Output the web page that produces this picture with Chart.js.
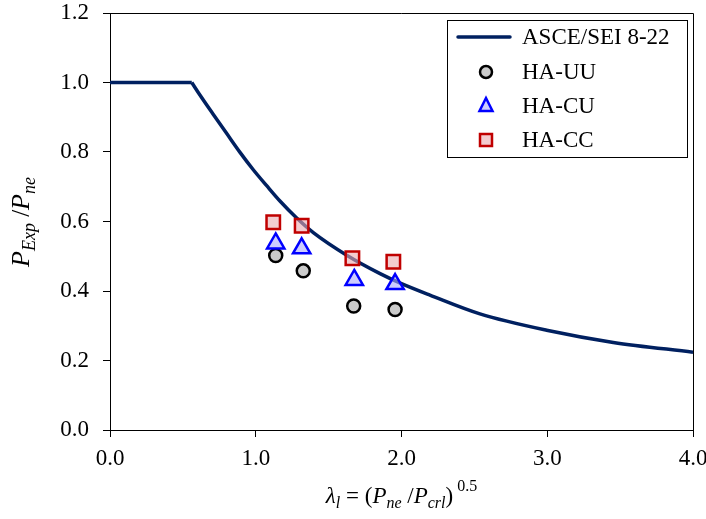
<!DOCTYPE html>
<html>
<head>
<meta charset="utf-8">
<script src="https://cdn.jsdelivr.net/npm/chart.js@4.4.1/dist/chart.umd.min.js"></script>
<style>
  html, body { margin: 0; padding: 0; background: white; overflow: hidden; }
  canvas { display: block; }
</style>
</head>
<body>
<canvas id="my-canvas" width="706" height="519" style="width:706px;height:519px;"></canvas>
<script>
// ASCE/SEI 8-22 design curve
let flat_x = [0, 0.561];
let flat_y = [1.0, 1.0];
let curve_x = [0.561, 0.617, 0.709, 0.801, 0.892, 0.983, 1.075, 1.166, 1.281, 1.395, 1.624, 1.853, 2.0, 2.195, 2.538, 2.996, 3.453, 4.0];
let curve_y = [1.0, 0.964, 0.908, 0.853, 0.799, 0.749, 0.703, 0.659, 0.610, 0.568, 0.503, 0.450, 0.421, 0.388, 0.334, 0.287, 0.252, 0.224];
// test results
let uu_x = [1.137, 1.326, 1.672, 1.956];
let uu_y = [0.502, 0.458, 0.357, 0.347];
let cu_x = [1.137, 1.315, 1.676, 1.956];
let cu_y = [0.537, 0.523, 0.432, 0.420];
let cc_x = [1.120, 1.315, 1.663, 1.944];
let cc_y = [0.598, 0.588, 0.494, 0.484];
let x_ticks = [0, 1, 2, 3, 4];
let y_ticks = [0, 0.2, 0.4, 0.6, 0.8, 1.0, 1.2];

const serif = "'Liberation Serif', 'Times New Roman', serif";

function pts(xs, ys) {
    let arr = [];
    for (let i = 0; i < xs.length; i++) {
        arr.push({ x: xs[i], y: ys[i] });
    }
    return arr;
}

let legend_items = [
    { label: 'ASCE/SEI 8-22', type: 'line', color: '#002060' },
    { label: 'HA-UU', type: 'circle', fill: 'rgba(190,190,190,0.8)', stroke: '#000000' },
    { label: 'HA-CU', type: 'triangle', fill: 'rgba(170,170,255,0.6)', stroke: '#0000ff' },
    { label: 'HA-CC', type: 'rect', fill: 'rgba(235,170,175,0.6)', stroke: '#c00000' }
];

// frame, legend box and axis titles
const decorations = {
    id: 'decorations',
    afterDraw(chart) {
        const ctx = chart.ctx;
        const a = chart.chartArea;
        ctx.save();
        // top and right border of plot
        ctx.strokeStyle = '#000';
        ctx.lineWidth = 1;
        ctx.beginPath();
        ctx.moveTo(a.left, a.top + 0.5);
        ctx.lineTo(a.right + 0.5, a.top + 0.5);
        ctx.lineTo(a.right + 0.5, a.bottom);
        ctx.stroke();

        // legend
        let bx = 447, by = 20, bw = 240, bh = 137;
        ctx.fillStyle = 'white';
        ctx.fillRect(bx, by, bw, bh);
        ctx.strokeStyle = '#000';
        ctx.lineWidth = 1;
        ctx.strokeRect(bx + 0.5, by + 0.5, bw, bh);
        ctx.font = '23px ' + serif;
        ctx.textBaseline = 'middle';
        ctx.textAlign = 'left';
        let rows = [37, 72, 106, 140];
        for (let i = 0; i < legend_items.length; i++) {
            let it = legend_items[i];
            let cy = rows[i];
            if (it.type == 'line') {
                ctx.strokeStyle = it.color;
                ctx.lineWidth = 3.5;
                ctx.lineCap = 'round';
                ctx.beginPath();
                ctx.moveTo(458, cy);
                ctx.lineTo(510, cy);
                ctx.stroke();
            } else {
                ctx.lineWidth = 2.5;
                ctx.fillStyle = it.fill;
                ctx.strokeStyle = it.stroke;
                ctx.beginPath();
                if (it.type == 'circle') {
                    ctx.arc(486, cy, 6, 0, Math.PI * 2);
                } else if (it.type == 'triangle') {
                    ctx.moveTo(486, cy - 8);
                    ctx.lineTo(492.5, cy + 5);
                    ctx.lineTo(479.5, cy + 5);
                    ctx.closePath();
                } else {
                    ctx.rect(480, cy - 6, 12, 12);
                }
                ctx.fill();
                ctx.stroke();
            }
            ctx.fillStyle = '#000';
            ctx.fillText(it.label, 522, cy + 1);
        }

        // y axis title: P_Exp / P_ne
        ctx.fillStyle = '#000';
        ctx.translate(29, 222);
        ctx.rotate(-Math.PI / 2);
        let parts = [
            { t: 'P', f: 'italic 26px ' + serif, dy: 0 },
            { t: 'Exp', f: 'italic 18px ' + serif, dy: 6 },
            { t: ' /', f: '25px ' + serif, dy: 0 },
            { t: 'P', f: 'italic 26px ' + serif, dy: 0 },
            { t: 'ne', f: 'italic 18px ' + serif, dy: 6 }
        ];
        drawParts(ctx, parts, 0, 0);
        ctx.restore();

        // x axis title: λl = (Pne /Pcrl) 0.5
        ctx.save();
        ctx.fillStyle = '#000';
        let xparts = [
            { t: 'λ', f: 'italic 23px ' + serif, dy: 0 },
            { t: 'l', f: 'italic 16px ' + serif, dy: 5 },
            { t: ' = (', f: '23px ' + serif, dy: 0 },
            { t: 'P', f: 'italic 23px ' + serif, dy: 0 },
            { t: 'ne', f: 'italic 16px ' + serif, dy: 5 },
            { t: ' /', f: '23px ' + serif, dy: 0 },
            { t: 'P', f: 'italic 23px ' + serif, dy: 0 },
            { t: 'crl', f: 'italic 16px ' + serif, dy: 5 },
            { t: ')', f: '23px ' + serif, dy: 0 },
            { t: ' 0.5', f: '16px ' + serif, dy: -12 }
        ];
        drawParts(ctx, xparts, (a.left + a.right) / 2, 503);
        ctx.restore();
    }
};

function drawParts(ctx, parts, cx, baseline) {
    ctx.textBaseline = 'alphabetic';
    ctx.textAlign = 'left';
    let total = 0;
    for (let p of parts) {
        ctx.font = p.f;
        total += ctx.measureText(p.t).width;
    }
    let x = cx - total / 2;
    for (let p of parts) {
        ctx.font = p.f;
        ctx.fillText(p.t, x, baseline + p.dy);
        x += ctx.measureText(p.t).width;
    }
}

let ctx = document.getElementById('my-canvas');
var chart = new Chart(ctx, {
    type: 'scatter',
    data: {
        datasets: [
            {
                label: 'ASCE/SEI 8-22',
                data: pts(flat_x, flat_y),
                showLine: true,
                borderColor: '#002060',
                borderWidth: 3.5,
                pointRadius: 0,
                order: 5
            },
            {
                label: 'ASCE/SEI 8-22 (curve)',
                data: pts(curve_x, curve_y),
                showLine: true,
                borderColor: '#002060',
                borderWidth: 3.5,
                pointRadius: 0,
                cubicInterpolationMode: 'monotone',
                order: 4
            },
            {
                label: 'HA-UU',
                data: pts(uu_x, uu_y),
                pointStyle: 'circle',
                pointRadius: 6.5,
                borderWidth: 2.5,
                borderColor: '#000000',
                backgroundColor: 'rgba(190,190,190,0.8)',
                order: 3
            },
            {
                label: 'HA-CU',
                data: pts(cu_x, cu_y),
                pointStyle: 'triangle',
                pointRadius: 10,
                borderWidth: 2.5,
                borderColor: '#0000ff',
                backgroundColor: 'rgba(170,170,255,0.6)',
                order: 2
            },
            {
                label: 'HA-CC',
                data: pts(cc_x, cc_y),
                pointStyle: 'rect',
                pointRadius: 9.5,
                borderWidth: 2.5,
                borderColor: '#c00000',
                backgroundColor: 'rgba(235,170,175,0.6)',
                order: 1
            }
        ]
    },
    options: {
        responsive: false,
        animation: false,
        devicePixelRatio: 1,
        layout: { padding: { top: 13, right: 13, left: 0, bottom: 0 } },
        scales: {
            x: {
                type: 'linear',
                min: 0,
                max: 4,
                afterBuildTicks: (s) => { s.ticks = x_ticks.map(v => ({ value: v })); },
                afterFit: (s) => { s.height = 89; s.paddingLeft = 0; s.paddingRight = 0; },
                border: { color: '#000', width: 1 },
                grid: { drawOnChartArea: false, drawTicks: true, tickLength: 7, color: '#000' },
                ticks: {
                    color: '#000',
                    padding: 8,
                    font: { family: serif, size: 23 },
                    callback: (v) => Number(v).toFixed(1)
                }
            },
            y: {
                type: 'linear',
                min: 0,
                max: 1.2,
                afterBuildTicks: (s) => { s.ticks = y_ticks.map(v => ({ value: v })); },
                afterFit: (s) => { s.width = 110; s.paddingTop = 0; s.paddingBottom = 0; },
                border: { color: '#000', width: 1 },
                grid: { drawOnChartArea: false, drawTicks: true, tickLength: 7, color: '#000' },
                ticks: {
                    color: '#000',
                    padding: 14,
                    font: { family: serif, size: 23 },
                    callback: (v) => Number(v).toFixed(1)
                }
            }
        },
        plugins: {
            legend: { display: false },
            tooltip: { enabled: false },
            title: { display: false }
        }
    },
    plugins: [decorations]
});
</script>
</body>
</html>
